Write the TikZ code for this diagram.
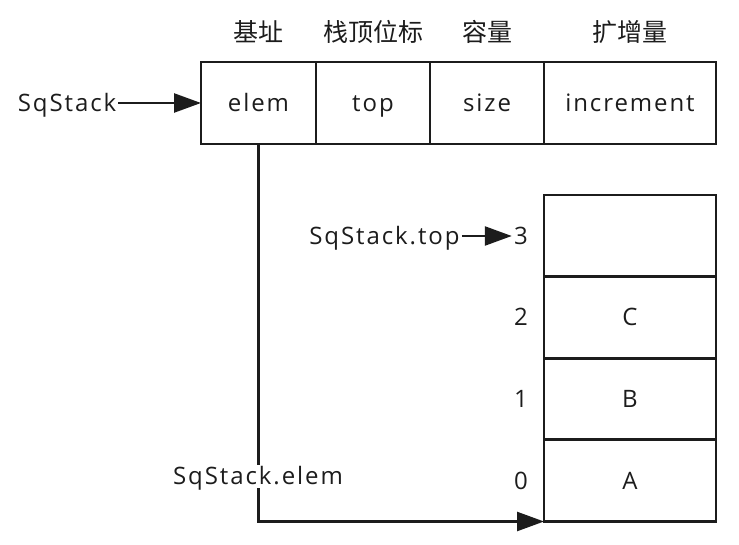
\documentclass[tikz,border=0pt]{standalone}
\usepackage{fontspec}
\setmainfont[LetterSpace=8]{Open Sans}
\newfontfamily\cjk{Noto Sans CJK SC}
\usetikzlibrary{positioning, arrows.meta}
\definecolor{inkdark}{HTML}{1C1C1C}

\begin{document}
\begin{tikzpicture}[x=1pt, y=-1pt, line width=2.5pt, color=inkdark,
    cell/.style={draw, outer sep=0pt, inner sep=0pt, minimum height=82pt, text height=19pt, text depth=2pt, font=\fontsize{24}{28}\selectfont},
    lbl/.style={inner sep=1pt, text height=19pt, text depth=2pt, font=\fontsize{24}{28}\selectfont},
    head/.style={inner sep=1pt, font=\cjk\fontsize{25}{30}\selectfont},
    ptr/.style={-{Triangle[length=27pt, width=19pt]}}]
  \useasboundingbox (0,0) rectangle (739,545);
  % the SqStack record
  \node[cell, minimum width=115pt] (elem) at (258.5,103) {elem};
  \node[cell, minimum width=114pt, right=0pt of elem] (top) {top};
  \node[cell, minimum width=114pt, right=0pt of top] (size) {size};
  \node[cell, minimum width=172pt, right=0pt of size] (incr) {increment};
  \node[head] (hbase) at (elem |- 0,32) {基址};
  \node[head] (htop) at (top |- 0,32) {栈顶位标};
  \node[head] (hsize) at (size |- 0,32) {容量};
  \node[head] (hincr) at (incr |- 0,32) {扩增量};
  \node[lbl] (sq) at (67,103) {SqStack};
  \draw[ptr] (sq) -- (elem);
  % the stack cells
  \foreach \i/\v in {0/A, 1/B, 2/C, 3/{}}{
    \node[cell, minimum width=172pt] (s\i) at (630,480.5-81.5*\i) {\v};
    \node[lbl, left=14pt of s\i] (n\i) {\i};
  }
  \node[lbl, left=50pt of n3] (sqtop) {SqStack.top};
  \draw[ptr] (sqtop) -- (n3);
  \draw[ptr] (elem.south) |- (s0.south west);
  \node[lbl, fill=white] (sqelem) at (258,476) {SqStack.elem};
\end{tikzpicture}
\end{document}
